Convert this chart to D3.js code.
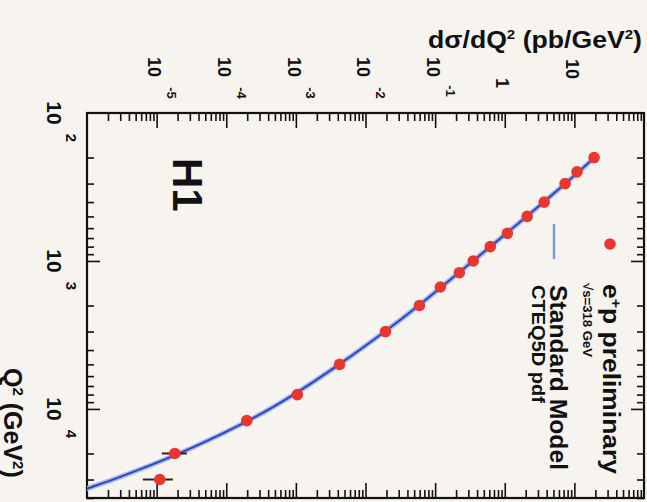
<!DOCTYPE html>
<html><head><meta charset="utf-8">
<script src="https://cdn.jsdelivr.net/npm/d3@7/dist/d3.min.js"></script>
<style>
html,body{margin:0;padding:0;background:#f7f4f0;}
svg{display:block;}
text{font-family:"Liberation Sans",Arial,sans-serif;fill:#111;}
</style></head>
<body>
<svg id="chart" width="647" height="502"></svg>
<script>
// Data
const q2Bins = [200, 250, 300, 400, 500, 650, 800, 1000, 1200, 1500, 2000, 3000, 5000, 8000, 12000, 20000, 30000];
const xsecData = [19.2, 10.9, 7.36, 3.68, 2.10, 1.09, 0.62, 0.353, 0.223, 0.119, 0.0594, 0.0194, 0.00424, 0.00105, 1.97e-4, 1.83e-5, 1.11e-5];
const xsecErrLo = [18.7, 10.5, 7.05, 3.53, 2.01, 1.04, 0.59, 0.335, 0.211, 0.112, 0.0556, 0.0180, 0.00388, 0.00094, 1.65e-4, 1.19e-5, 6.35e-6];
const xsecErrHi = [19.7, 11.3, 7.67, 3.83, 2.19, 1.14, 0.65, 0.371, 0.235, 0.126, 0.0632, 0.0208, 0.00460, 0.00117, 2.30e-4, 2.72e-5, 1.71e-5];
const smQ2 = [200, 300, 500, 1000, 2000, 3000, 5000, 8000, 11500, 19000, 28800, 34200, 40000];
const smXsec = [19.5, 7.4, 2.07, 0.35, 0.058, 0.019, 0.0042, 9.3e-4, 2.46e-4, 2.7e-5, 3.0e-6, 1.07e-6, 4.1e-7];
const xsecTickExps = [-5, -4, -3, -2, -1, 0, 1];
const q2TickExps = [2, 3, 4];

const svg = d3.select("#chart");
const X0 = 87, X1 = 644, Y0 = 113, Y1 = 498;
// the chart is printed rotated by 90 degrees: cross-section runs left->right, Q2 runs top->bottom
const x = d3.scaleLog().domain([1e-6, 1e2]).range([X0, X1]);
const y = d3.scaleLog().domain([100, 40000]).range([Y0, Y1]);

const isMajor = v => Math.abs(Math.log10(v) - Math.round(Math.log10(v))) < 1e-9;
const xt = x.ticks(), yt = y.ticks();
const xMaj = xt.filter(isMajor), xMin = xt.filter(v => !isMajor(v));
const yMaj = yt.filter(isMajor), yMin = yt.filter(v => !isMajor(v));

function tickAxis(axisFn, scale, vals, size, transform) {
  const g = svg.append("g").attr("transform", transform)
    .call(axisFn(scale).tickValues(vals).tickSize(size).tickFormat(""));
  g.select(".domain").remove();
  g.selectAll(".tick line").attr("stroke", "#111").attr("stroke-width", 1.6);
}
tickAxis(d3.axisTop, x, xMin, -8, `translate(0,${Y0})`);
tickAxis(d3.axisTop, x, xMaj.filter(v=>v>1e-6&&v<1e2), -15, `translate(0,${Y0})`);
tickAxis(d3.axisBottom, x, xMin, -8, `translate(0,${Y1})`);
tickAxis(d3.axisBottom, x, xMaj.filter(v=>v>1e-6&&v<1e2), -15, `translate(0,${Y1})`);
tickAxis(d3.axisLeft, y, yMin, -7, `translate(${X0},0)`);
tickAxis(d3.axisLeft, y, yMaj.filter(v=>v>100), -13, `translate(${X0},0)`);
tickAxis(d3.axisRight, y, yMin, -7, `translate(${X1},0)`);
tickAxis(d3.axisRight, y, yMaj.filter(v=>v>100), -13, `translate(${X1},0)`);

svg.append("rect").attr("x", X0).attr("y", Y0).attr("width", X1 - X0).attr("height", Y1 - Y0)
  .attr("fill", "none").attr("stroke", "#111").attr("stroke-width", 2.2);

// top tick labels (rotated)
xsecTickExps.forEach(e => {
  const px = x(Math.pow(10, e));
  if (e === 0 || e === 1) {
    svg.append("text").attr("transform", `translate(${px - 2},${e===0?83:69}) rotate(90)`)
      .attr("text-anchor", "middle").attr("dy", "0.35em")
      .style("font-size", "18px").style("font-weight", "bold")
      .text(e === 0 ? "1" : "10");
  } else {
    svg.append("text").attr("transform", `translate(${px - 2},67) rotate(90)`)
      .attr("text-anchor", "middle").attr("dy", "0.35em")
      .style("font-size", "18px").style("font-weight", "bold").text("10");
    svg.append("text").attr("transform", `translate(${px + 15},${e===-1?91:93}) rotate(90)`)
      .attr("text-anchor", "middle").attr("dy", "0.35em")
      .style("font-size", "13px").style("font-weight", "bold").text(String(e));
  }
});

// left tick labels (rotated)
q2TickExps.forEach(e => {
  const py = y(Math.pow(10, e));
  svg.append("text").attr("transform", `translate(54,${py}) rotate(90)`)
    .attr("text-anchor", "middle").attr("dy", "0.35em")
    .style("font-size", "21px").style("font-weight", "bold").text("10");
  svg.append("text").attr("transform", `translate(71,${py + 25}) rotate(90)`)
    .attr("text-anchor", "middle").attr("dy", "0.35em")
    .style("font-size", "15px").style("font-weight", "bold").text(String(e));
});

// axis titles
const t1 = svg.append("text").attr("x", 428).attr("y", 48)
  .attr("textLength", 214).attr("lengthAdjust", "spacingAndGlyphs")
  .style("font-size", "23px").style("font-weight", "bold");
t1.append("tspan").text("dσ/dQ");
t1.append("tspan").attr("dy", -9).style("font-size", "13px").text("2");
t1.append("tspan").attr("dy", 9).text(" (pb/GeV");
t1.append("tspan").attr("dy", -9).style("font-size", "13px").text("2");
t1.append("tspan").attr("dy", 9).text(")");

const t2 = svg.append("text").attr("transform", `translate(13,368) rotate(90)`)
  .attr("dy", "0.35em")
  .style("font-size", "25px").style("font-weight", "bold");
t2.append("tspan").text("Q");
t2.append("tspan").attr("dy", -9).style("font-size", "15px").text("2");
t2.append("tspan").attr("dy", 9).text(" (GeV");
t2.append("tspan").attr("dy", -9).style("font-size", "15px").text("2");
t2.append("tspan").attr("dy", 9).text(")");

// H1 label
svg.append("text").attr("transform", `translate(188,158) rotate(90)`)
  .attr("dy", "0.35em").style("font-size", "42px").style("font-weight", "bold").text("H1");

// clip
svg.append("clipPath").attr("id", "clip").append("rect")
  .attr("x", X0).attr("y", Y0).attr("width", X1 - X0).attr("height", Y1 - Y0);

// Standard Model curve
const smPts = smQ2.map((q, i) => ({q, s: smXsec[i]}));
const line = d3.line().x(d => x(d.s)).y(d => y(d.q)).curve(d3.curveCatmullRom);
const cg = svg.append("g").attr("clip-path", "url(#clip)");
cg.append("path").datum(smPts).attr("d", line).attr("fill", "none")
  .attr("stroke", "#a3b5ec").attr("stroke-width", 5);
cg.append("path").datum(smPts).attr("d", line).attr("fill", "none")
  .attr("stroke", "#2c48c0").attr("stroke-width", 2);

// data points
const pts = q2Bins.map((q, i) => ({q, s: xsecData[i], lo: xsecErrLo[i], hi: xsecErrHi[i]}));
const dg = svg.append("g").attr("clip-path", "url(#clip)");
dg.selectAll("line.err").data(pts).join("line").attr("class", "err")
  .attr("x1", d => x(d.lo)).attr("x2", d => x(d.hi))
  .attr("y1", d => y(d.q)).attr("y2", d => y(d.q))
  .attr("stroke", "#4a1717").attr("stroke-width", 2);
dg.selectAll("circle").data(pts).join("circle")
  .attr("cx", d => x(d.s)).attr("cy", d => y(d.q)).attr("r", 5.8)
  .attr("fill", "#e8372e");

// legend
svg.append("circle").attr("cx", 610).attr("cy", 244).attr("r", 5.8).attr("fill", "#e8372e");
svg.append("line").attr("x1", 554).attr("x2", 554).attr("y1", 224).attr("y2", 259)
  .attr("stroke", "#7d97e2").attr("stroke-width", 2.5);

const l1 = svg.append("text").attr("transform", `translate(611,284) rotate(90)`)
  .attr("dy", "0.35em").attr("textLength", 190).attr("lengthAdjust", "spacingAndGlyphs")
  .style("font-size", "23px").style("font-weight", "bold");
l1.append("tspan").text("e");
l1.append("tspan").attr("dy", -8).style("font-size", "14px").text("+");
l1.append("tspan").attr("dy", 8).text("p preliminary");

svg.append("text").attr("transform", `translate(588,283) rotate(90)`)
  .attr("dy", "0.35em").attr("textLength", 74).attr("lengthAdjust", "spacingAndGlyphs")
  .style("font-size", "13px").style("font-weight", "bold").text("√s=318 GeV");
svg.append("text").attr("transform", `translate(558,285) rotate(90)`)
  .attr("dy", "0.35em").attr("textLength", 185).attr("lengthAdjust", "spacingAndGlyphs")
  .style("font-size", "23px").style("font-weight", "bold").text("Standard Model");
svg.append("text").attr("transform", `translate(539,285) rotate(90)`)
  .attr("dy", "0.35em").attr("textLength", 118).attr("lengthAdjust", "spacingAndGlyphs")
  .style("font-size", "19px").style("font-weight", "bold").text("CTEQ5D pdf");
</script>
</body></html>
